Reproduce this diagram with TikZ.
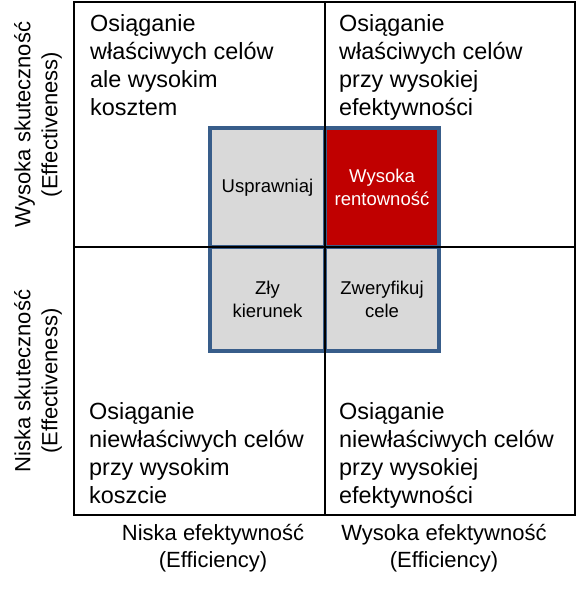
\documentclass[tikz,border=0pt]{standalone}
\usepackage{fontspec}
\setmainfont{Liberation Sans}
\usetikzlibrary{positioning}

\definecolor{cellblue}{RGB}{56,93,138}
\definecolor{cellgray}{RGB}{217,217,217}
\definecolor{cellred}{RGB}{192,0,0}

\begin{document}
\begin{tikzpicture}[
        x=1pt, y=-1pt,
        quad/.style={anchor=north west, inner sep=0pt, align=left,
                     font=\fontsize{23.4}{28}\selectfont},
        cell/.style={rectangle, draw=cellblue, fill=cellgray, line width=3.2pt,
                     align=center, inner sep=0pt,
                     font=\fontsize{18.5}{23}\selectfont},
        axis/.style={align=center, inner sep=0pt,
                     font=\fontsize{22}{27}\selectfont},
        grid/.style={draw=black, line width=1.3pt}
    ]
        \useasboundingbox (0,0) rectangle (578,605);

        % inner cells
        \node[cell, minimum width=115pt, minimum height=119pt] (usprawniaj) at (267.5,187.5) {Usprawniaj};
        \node[cell, fill=cellred, text=white, minimum width=114pt, minimum height=119pt] (rentownosc) at (382,187.5) {Wysoka\\rentowność};
        \node[cell, minimum width=115pt, minimum height=104pt] (kierunek) at (267.5,299) {Zły\\kierunek};
        \node[cell, minimum width=114pt, minimum height=104pt] (cele) at (382,299) {Zweryfikuj\\cele};

        % frame
        \coordinate (nw) at (74,2);
        \coordinate (se) at (575,515);
        \coordinate (top) at (325,2);
        \coordinate (bottom) at (325,515);
        \coordinate (left) at (74,247);
        \coordinate (right) at (575,247);
        \draw[grid] (nw) rectangle (se);
        \draw[grid] (top) -- (bottom);
        \draw[grid] (left) -- (right);

        % quadrant texts
        \node[quad] (tl) at (90,14) {Osiąganie\\właściwych celów\\ale wysokim\\kosztem};
        \node[quad] (tr) at (339,14) {Osiąganie\\właściwych celów\\przy wysokiej\\efektywności};
        \node[quad] (bl) at (89,402) {Osiąganie\\niewłaściwych celów\\przy wysokim\\koszcie};
        \node[quad] (br) at (339,402) {Osiąganie\\niewłaściwych celów\\przy wysokiej\\efektywności};

        % axis labels
        \node[axis, rotate=90] (wysokaskut) at (38,124.5) {Wysoka skuteczność\\(Effectiveness)};
        \node[axis, rotate=90] (niskaskut) at (38,381) {Niska skuteczność\\(Effectiveness)};
        \node[axis, anchor=north] (niskaefek) at (213,524) {Niska efektywność\\(Efficiency)};
        \node[axis, anchor=north] (wysokaefek) at (444,524) {Wysoka efektywność\\(Efficiency)};
    \end{tikzpicture}
\end{document}
